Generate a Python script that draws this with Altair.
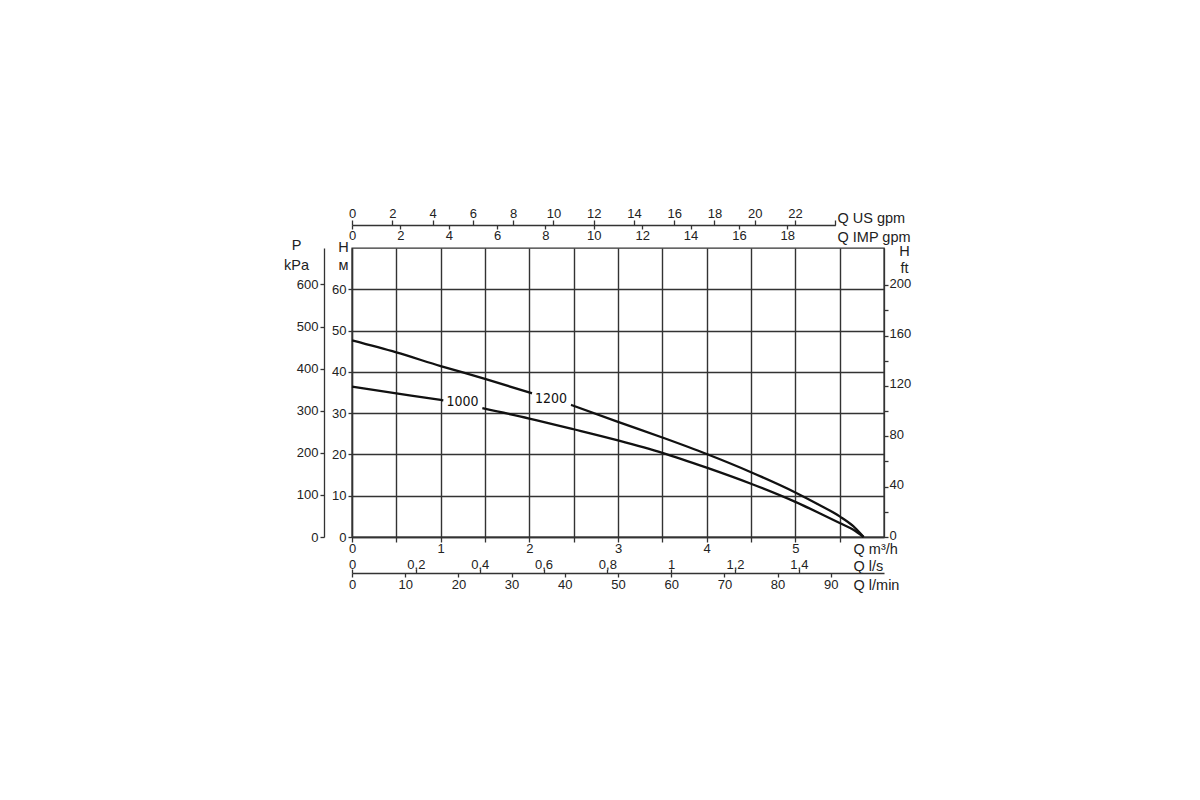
import altair as alt
import pandas as pd

# ---- data (Q in m3/h, H in m) ----
q_1200_a = [0.0, 0.5, 1.0, 1.5, 2.03]
h_1200_a = [47.6, 44.7, 41.4, 38.3, 34.8]
q_1200_b = [2.47, 3.0, 3.5, 4.0, 4.5, 5.0, 5.25, 5.5, 5.65, 5.77]
h_1200_b = [32.0, 27.9, 24.1, 20.1, 15.7, 10.8, 8.0, 5.0, 2.7, 0.0]

q_1000_a = [0.0, 0.5, 1.0, 1.03]
h_1000_a = [36.4, 34.8, 33.2, 33.1]
q_1000_b = [1.47, 2.0, 2.5, 3.0, 3.5, 4.0, 4.5, 5.0, 5.25, 5.5, 5.65, 5.77]
h_1000_b = [31.2, 28.7, 26.1, 23.4, 20.4, 16.8, 12.9, 8.5, 6.0, 3.4, 1.8, 0.0]

label_text = ["1000", "1200"]
label_q = [1.246, 2.244]
label_h = [32.7, 33.5]

# axis tick values
q_m3h_ticks = [0, 0.5, 1, 1.5, 2, 2.5, 3, 3.5, 4, 4.5, 5, 5.5]
h_m_ticks = [0, 10, 20, 30, 40, 50, 60]
p_kpa_ticks = [0, 100, 200, 300, 400, 500, 600]
h_ft_ticks = [0, 20, 40, 60, 80, 100, 120, 140, 160, 180, 200]
q_ls_ticks = [0, 0.2, 0.4, 0.6, 0.8, 1.0, 1.2, 1.4]
q_lmin_ticks = [0, 10, 20, 30, 40, 50, 60, 70, 80, 90]
q_us_ticks = [0, 2, 4, 6, 8, 10, 12, 14, 16, 18, 20, 22, 24]
q_imp_ticks = [0, 2, 4, 6, 8, 10, 12, 14, 16, 18]

Q_MAX = 6.0
H_MAX = 70.0
KPA_PER_M = 9.80665
FT_PER_M = 3.28084
LS_PER_M3H = 1 / 3.6
LMIN_PER_M3H = 1000 / 60
USGPM_PER_M3H = 4.40287
IMPGPM_PER_M3H = 3.66615

W, H = 532, 289
TITLE_FS = 14.5

rows = []
for name, qs, hs in [("1200a", q_1200_a, h_1200_a), ("1200b", q_1200_b, h_1200_b),
                     ("1000a", q_1000_a, h_1000_a), ("1000b", q_1000_b, h_1000_b)]:
    for q, h in zip(qs, hs):
        rows.append({"seg": name, "Q": q, "H": h})
df = pd.DataFrame(rows)
labels = pd.DataFrame({"t": label_text, "Q": label_q, "H": label_h})

xs = alt.Scale(domain=[0, Q_MAX], nice=False, zero=False)
ys = alt.Scale(domain=[0, H_MAX], nice=False, zero=False)

curves = alt.Chart(df).mark_line(color="#111", strokeWidth=2.3, interpolate="monotone").encode(
    x=alt.X("Q:Q", scale=xs, axis=alt.Axis(
        values=q_m3h_ticks, grid=True, tickSize=5, labelPadding=0,
        labelExpr="datum.value % 1 == 0 ? format(datum.value, 'd') : ''",
        title="Q m³/h", titleX=501, titleY=16, titleAlign="left", titleBaseline="alphabetic",
        titleAnchor="start")),
    y=alt.Y("H:Q", scale=ys, axis=alt.Axis(
        values=h_m_ticks, grid=True, tickSize=4,
        title=["H", "м"], titleAngle=0, titleX=-9, titleY=3, titleAlign="center",
        titleBaseline="alphabetic", titleLineHeight=18, titleAnchor="start")),
    detail="seg:N",
)

texts = alt.Chart(labels).mark_text(
    font="Liberation Sans Narrow, DejaVu Sans Condensed, sans-serif",
    fontSize=14, color="#111").encode(
    x=alt.X("Q:Q", scale=xs, axis=None),
    y=alt.Y("H:Q", scale=ys, axis=None),
    text="t:N",
)

ghost = alt.Chart(df).mark_point(opacity=0)

p_layer = ghost.transform_calculate(P=f"datum.H * {KPA_PER_M}").encode(
    x=alt.X("Q:Q", scale=xs, axis=None),
    y=alt.Y("P:Q", scale=alt.Scale(domain=[0, H_MAX * KPA_PER_M], nice=False), axis=alt.Axis(
        orient="left", offset=28, values=p_kpa_ticks, grid=False, tickSize=4,
        title=["P", "kPa"], titleAngle=0, titleX=-28, titleY=1, titleAlign="center",
        titleBaseline="alphabetic", titleLineHeight=20, titleAnchor="start")),
)

ft_layer = ghost.transform_calculate(F=f"datum.H * {FT_PER_M}").encode(
    x=alt.X("Q:Q", scale=xs, axis=None),
    y=alt.Y("F:Q", scale=alt.Scale(domain=[0, H_MAX * FT_PER_M], nice=False), axis=alt.Axis(
        orient="right", values=h_ft_ticks, grid=False, tickSize=4, labelPadding=1, labelOffset=-2,
        labelExpr="datum.value % 40 == 0 ? datum.label : ''",
        title=["H", "ft"], titleAngle=0, titleX=20, titleY=7, titleAlign="center",
        titleBaseline="alphabetic", titleLineHeight=17, titleAnchor="start")),
)

ls_layer = ghost.transform_calculate(L=f"datum.Q * {LS_PER_M3H}").encode(
    x=alt.X("L:Q", scale=alt.Scale(domain=[0, Q_MAX * LS_PER_M3H], nice=False), axis=alt.Axis(
        orient="top", offset=-(H + 36), values=q_ls_ticks, grid=False, domain=False,
        tickSize=4, labelPadding=-2,
        labelExpr="datum.value == 0 ? '0' : datum.value == 1 ? '1' : replace(format(datum.value, '.1f'), '.', ',')",
        title="Q l/s", titleX=501, titleY=-3, titleAlign="left", titleBaseline="alphabetic",
        titleAnchor="start")),
    y=alt.Y("H:Q", scale=ys, axis=None),
)

lmin_layer = ghost.transform_calculate(M=f"datum.Q * {LMIN_PER_M3H}").encode(
    x=alt.X("M:Q", scale=alt.Scale(domain=[0, Q_MAX * LMIN_PER_M3H], nice=False), axis=alt.Axis(
        orient="bottom", offset=36, values=q_lmin_ticks, grid=False, tickSize=4, labelPadding=1,
        title="Q l/min", titleX=501, titleY=16, titleAlign="left", titleBaseline="alphabetic",
        titleAnchor="start")),
    y=alt.Y("H:Q", scale=ys, axis=None),
)

us_max = 24
us_layer = ghost.transform_calculate(U=f"datum.Q * {USGPM_PER_M3H}").encode(
    x=alt.X("U:Q", scale=alt.Scale(domain=[0, us_max], range=[0, W * us_max / (Q_MAX * USGPM_PER_M3H)], nice=False),
            axis=alt.Axis(
                orient="top", offset=23, values=q_us_ticks, grid=False, tickSize=5, labelPadding=0,
                labelExpr="datum.value < 24 ? datum.label : ''",
                title="Q US gpm", titleX=485, titleY=-3, titleAlign="left", titleBaseline="alphabetic",
                titleAnchor="start")),
    y=alt.Y("H:Q", scale=ys, axis=None),
)

imp_layer = ghost.transform_calculate(I=f"datum.Q * {IMPGPM_PER_M3H}").encode(
    x=alt.X("I:Q", scale=alt.Scale(domain=[0, Q_MAX * IMPGPM_PER_M3H], nice=False), axis=alt.Axis(
        orient="bottom", offset=-(H + 23), values=q_imp_ticks, grid=False, domain=False,
        tickSize=4, labelPadding=0,
        title="Q IMP gpm", titleX=485, titleY=16, titleAlign="left", titleBaseline="alphabetic",
        titleAnchor="start")),
    y=alt.Y("H:Q", scale=ys, axis=None),
)

chart = alt.layer(
    p_layer, ft_layer, ls_layer, lmin_layer, us_layer, imp_layer, curves, texts
).resolve_scale(
    x="independent", y="independent"
).properties(
    width=W, height=H,
    autosize=alt.AutoSizeParams(type="none"),
    padding={"left": 344, "top": 240, "right": 290, "bottom": 240},
    background="white",
).configure_axis(
    labelFont="Liberation Sans", labelFontSize=13, labelColor="#222",
    titleFont="Liberation Sans", titleFontSize=TITLE_FS, titleFontWeight="normal", titleColor="#222",
    domainColor="#333", domainWidth=1.3, tickColor="#333", tickWidth=1.3,
    gridColor="#333", gridWidth=1.4, gridOpacity=1, labelFlush=False,
).configure_view(
    stroke="#333", strokeWidth=1.4,
)

chart.save("out.html", embed_options={"renderer": "svg", "actions": False})
